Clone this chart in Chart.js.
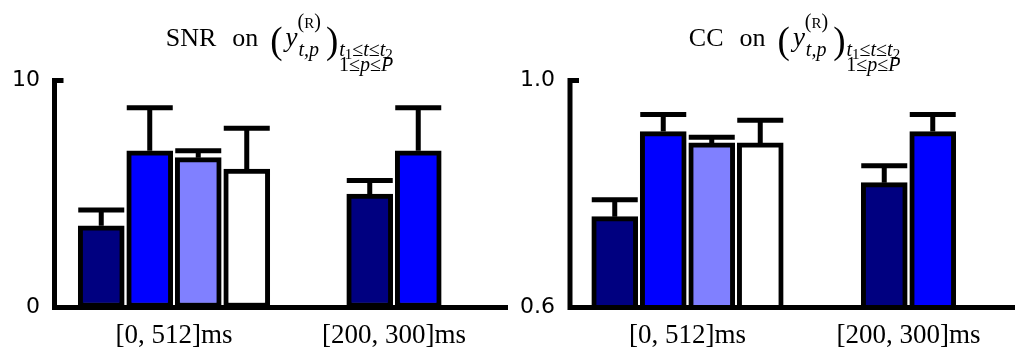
<!DOCTYPE html>
<html>
<head>
<meta charset="utf-8">
<script src="https://cdn.jsdelivr.net/npm/chart.js@4.4.1/dist/chart.umd.min.js"></script>
<style>
  html, body { margin: 0; padding: 0; background: #fff; overflow: hidden; }
  body { width: 1015px; height: 357px; position: relative; }
  .panel { position: absolute; top: 0; height: 357px; }
  #snrBox { left: 0; width: 510px; }
  #ccBox { left: 505px; width: 520px; }
</style>
</head>
<body>
<div class="panel" id="snrBox"><canvas id="snrChart"></canvas></div>
<div class="panel" id="ccBox"><canvas id="ccChart"></canvas></div>
<script>
let windowLabels = ["[0, 512]ms", "[200, 300]ms"];
let barColors = ["#000080", "#0000ff", "#8080ff", "#ffffff"];

// SNR per bar colour (null = no bar in that window)
let snrNavy = [3.6, 5.0];
let snrBlue = [6.9, 6.9];
let snrLight = [6.6, null];
let snrWhite = [6.1, null];
let snrNavyErr = [0.7, 0.6];
let snrBlueErr = [1.9, 1.9];
let snrLightErr = [0.3, null];
let snrWhiteErr = [1.8, null];
let snrTicks = [0, 10];

// CC per bar colour
let ccNavy = [0.76, 0.82];
let ccBlue = [0.91, 0.91];
let ccLight = [0.89, null];
let ccWhite = [0.89, null];
let ccNavyErr = [0.03, 0.03];
let ccBlueErr = [0.03, 0.03];
let ccLightErr = [0.01, null];
let ccWhiteErr = [0.04, null];
let ccTicks = [0.6, 1.0];

const SERIF = "'Liberation Serif', serif";

// title like  SNR on (y^(R)_{t,p})_{t1<=t<=t2, 1<=p<=P}
function drawMathTitle(ctx, word, cx, base) {
    const rm = "26px " + SERIF, it = "italic 27px " + SERIF, big = "37px " + SERIF;
    const sm = "20px " + SERIF, smIt = "italic 20px " + SERIF, tiny = "15px " + SERIF;
    const items = [];
    let x = 0;
    const w = (t, f) => { ctx.font = f; return ctx.measureText(t).width; };
    const put = (t, f, dy) => { items.push({ t, f, x, dy }); x += w(t, f); };

    put(word, rm, 0); x += 16;
    put("on", rm, 0); x += 12;
    put("(", big, 7); x += 3;
    put("y", it, 0);
    const x0 = x;
    put("(", sm, -18); put("R", tiny, -18); put(")", sm, -18);
    const supEnd = x;
    x = x0 + 1;
    put("t,p", smIt, 10);
    x = Math.max(x, supEnd) + 5;
    put(")", big, 7);
    x += 1;

    // stacked limits after the closing paren
    const line1 = [["t", smIt, 0], ["1", tiny, 3], ["≤", sm, 0], ["t", smIt, 0], ["≤", sm, 0], ["t", smIt, 0], ["2", tiny, 3]];
    const line2 = [["1", sm, 0], ["≤", sm, 0], ["p", smIt, 0], ["≤", sm, 0], ["P", smIt, 0]];
    const lw = l => l.reduce((s, p) => s + w(p[0], p[1]), 0);
    const w1 = lw(line1), w2 = lw(line2);
    const sx = x;
    line1.forEach(p => put(p[0], p[1], 10 + p[2]));
    const end = x;
    x = sx + (w1 - w2) / 2;
    line2.forEach(p => put(p[0], p[1], 25 + p[2]));
    x = end;

    const left = cx - x / 2;
    ctx.save();
    ctx.fillStyle = "#000";
    ctx.textBaseline = "alphabetic";
    ctx.textAlign = "left";
    items.forEach(p => { ctx.font = p.f; ctx.fillText(p.t, left + p.x, base + p.dy); });
    ctx.restore();
}

// axis lines, inward ticks, error bars and the title
const panelDecor = {
    id: "panelDecor",
    afterDatasetsDraw(chart, args, opts) {
        const ctx = chart.ctx, area = chart.chartArea, y = chart.scales.y;
        ctx.save();
        ctx.strokeStyle = "#000";
        ctx.lineWidth = 5;
        ctx.lineCap = "butt";

        // error bars (upper only)
        chart.data.datasets.forEach((ds, i) => {
            const meta = chart.getDatasetMeta(i);
            meta.data.forEach((bar, j) => {
                const v = ds.data[j];
                if (v == null) return;
                const top = y.getPixelForValue(v + opts.errors[i][j]);
                ctx.beginPath();
                ctx.moveTo(bar.x, bar.y);
                ctx.lineTo(bar.x, top);
                ctx.moveTo(bar.x - bar.width / 2, top);
                ctx.lineTo(bar.x + bar.width / 2, top);
                ctx.stroke();
            });
        });

        // axes
        const ax = area.left - opts.gap;
        const yTop = y.getPixelForValue(y.max) - 2.5;
        ctx.beginPath();
        ctx.moveTo(ax, yTop);
        ctx.lineTo(ax, area.bottom + 2.5);
        ctx.moveTo(ax - 2.5, area.bottom);
        ctx.lineTo(opts.xEnd === undefined ? chart.width : opts.xEnd, area.bottom);
        y.ticks.forEach(t => {
            const py = y.getPixelForValue(t.value);
            ctx.moveTo(ax - 2.5, py);
            ctx.lineTo(ax + 9, py);
        });
        ctx.stroke();
        ctx.restore();

        drawMathTitle(ctx, opts.word, (ax + area.right) / 2, 46);
    }
};

function makePanel(canvasId, cfg) {
    const names = ["navy", "blue", "light", "white"];
    return new Chart(document.getElementById(canvasId), {
        type: "bar",
        plugins: [panelDecor],
        data: {
            labels: windowLabels,
            datasets: cfg.series.map((s, i) => ({
                label: names[i],
                data: s,
                backgroundColor: barColors[i],
                borderColor: "#000",
                borderWidth: 5,
                borderSkipped: false,
            })),
        },
        options: {
            animation: false,
            responsive: true,
            maintainAspectRatio: false,
            skipNull: true,
            barThickness: 48.5,
            maxBarThickness: 46,
            layout: { padding: { top: 80.5, right: cfg.padRight, left: 0, bottom: 0 } },
            scales: {
                x: {
                    grid: { display: false, drawTicks: false },
                    border: { display: false },
                    ticks: { color: "#000", padding: 12, font: { family: SERIF, size: 27 } },
                    afterFit(scale) { scale.height = 49.5; },
                },
                y: {
                    min: cfg.ticks[0],
                    max: cfg.ticks[cfg.ticks.length - 1],
                    grid: { display: false, drawTicks: false },
                    border: { display: false },
                    afterBuildTicks(scale) { scale.ticks = cfg.ticks.map(v => ({ value: v })); },
                    ticks: {
                        color: "#000",
                        padding: cfg.labelPad,
                        font: { family: "'DejaVu Sans', sans-serif", size: 22 },
                        callback: cfg.fmt,
                    },
                    afterFit(scale) { scale.width = cfg.yWidth; },
                },
            },
            plugins: {
                legend: { display: false },
                tooltip: { enabled: false },
                panelDecor: { errors: cfg.errors, gap: cfg.gap, word: cfg.word, xEnd: cfg.xEnd },
            },
        },
    });
}

let snrChart = makePanel("snrChart", {
    series: [snrNavy, snrBlue, snrLight, snrWhite],
    errors: [snrNavyErr, snrBlueErr, snrLightErr, snrWhiteErr],
    ticks: snrTicks,
    fmt: v => String(v),
    word: "SNR",
    yWidth: 64, labelPad: 24, gap: 9.5, padRight: 6, xEnd: 508,
});

let ccChart = makePanel("ccChart", {
    series: [ccNavy, ccBlue, ccLight, ccWhite],
    errors: [ccNavyErr, ccBlueErr, ccLightErr, ccWhiteErr],
    ticks: ccTicks,
    fmt: v => v.toFixed(1),
    word: "CC",
    yWidth: 72, labelPad: 22, gap: 7, padRight: 6,
});
</script>
</body>
</html>
